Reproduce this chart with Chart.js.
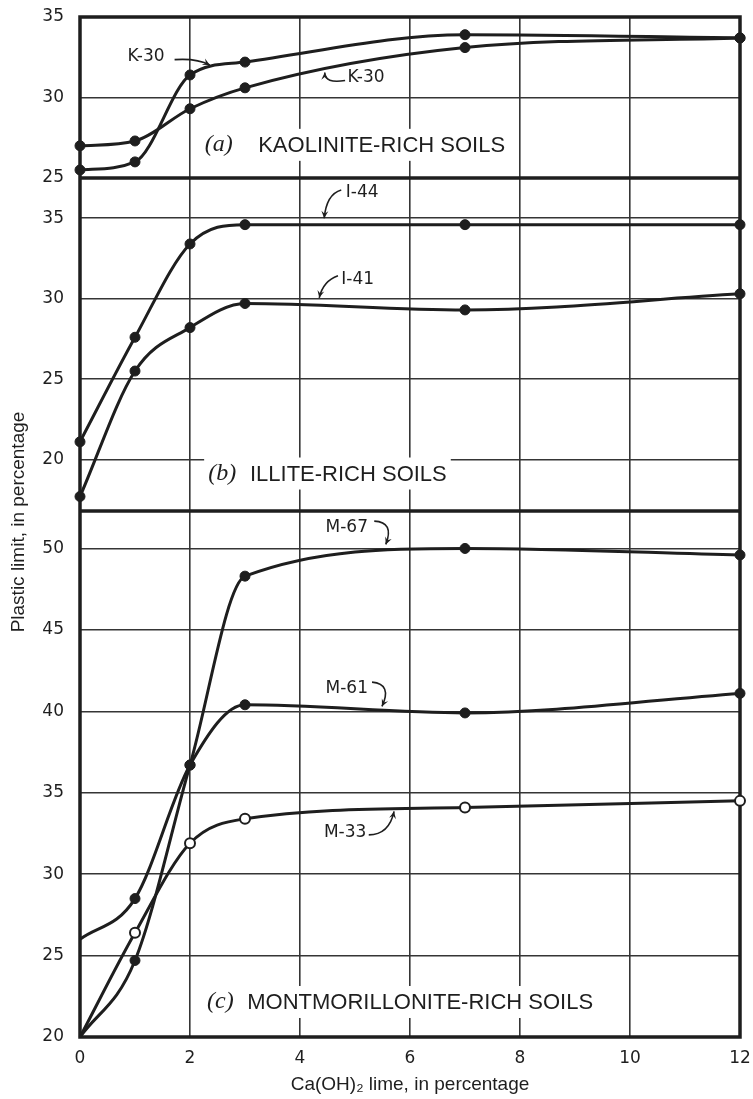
<!DOCTYPE html>
<html>
<head>
<meta charset="utf-8">
<script src="https://cdn.jsdelivr.net/npm/chart.js@4.4.0/dist/chart.umd.min.js"></script>
<style>
  html, body { margin: 0; padding: 0; background: #fff; }
  #wrap { width: 753px; height: 1099px; position: relative; }
</style>
</head>
<body>
<div id="wrap"><canvas id="limitChart"></canvas></div>
<script>
// lime content, % Ca(OH)2
const lime = [0, 1, 2, 3, 7, 12];

// (a) kaolinite-rich soils, two K-30 curves
const k30First = [27.0, 27.3, 29.3, 30.6, 33.1, 33.7];
const k30Second = [25.5, 26.0, 31.4, 32.2, 33.9, 33.7];
// (b) illite-rich soils
const i44 = [21.1, 27.6, 33.4, 34.6, 34.6, 34.6];
const i41 = [17.7, 25.5, 28.2, 29.7, 29.3, 30.3];
// (c) montmorillonite-rich soils
const m67 = [20.0, 24.7, 36.7, 48.3, 50.0, 49.6];
const m61 = [26.0, 28.5, 36.7, 40.4, 39.9, 41.1];
const m33 = [20.0, 26.4, 31.9, 33.4, 34.1, 34.5];

const xTicks = [0, 2, 4, 6, 8, 10, 12];
const ticksA = [25, 30, 35];
const ticksB = [20, 25, 30, 35];
const ticksC = [20, 25, 30, 35, 40, 45, 50];

const INK = '#1e1e1e';
const GRID = '#353535';

// text placed on the plot, in data units of each panel
const panelLabels = [
    { axis: 'yA', tag: '(a)', text: 'KAOLINITE-RICH SOILS', tagX: 2.27, textX: 3.24, y: 27.06 },
    { axis: 'yB', tag: '(b)', text: 'ILLITE-RICH SOILS', tagX: 2.33, textX: 3.09, y: 19.13 },
    { axis: 'yC', tag: '(c)', text: 'MONTMORILLONITE-RICH SOILS', tagX: 2.31, textX: 3.04, y: 22.15 }
];
const curveLabels = [
    { axis: 'yA', text: 'K-30', x: 1.2, y: 32.56, arrow: [[1.72, 32.35], [2.12, 32.45], [2.36, 32.02]] },
    { axis: 'yA', text: 'K-30', x: 5.2, y: 31.25, arrow: [[4.82, 31.06], [4.45, 30.85], [4.45, 31.55]] },
    { axis: 'yB', text: 'I-44', x: 5.13, y: 36.57, arrow: [[4.75, 36.76], [4.48, 36.5], [4.44, 35.0]] },
    { axis: 'yB', text: 'I-41', x: 5.05, y: 31.17, arrow: [[4.69, 31.42], [4.42, 31.1], [4.35, 30.05]] },
    { axis: 'yC', text: 'M-67', x: 4.85, y: 51.31, arrow: [[5.35, 51.68], [5.72, 51.62], [5.56, 50.25]] },
    { axis: 'yC', text: 'M-61', x: 4.85, y: 41.42, arrow: [[5.31, 41.79], [5.68, 41.67], [5.49, 40.3]] },
    { axis: 'yC', text: 'M-33', x: 4.82, y: 32.53, arrow: [[5.25, 32.41], [5.62, 32.41], [5.71, 33.85]] }
];

function curve(label, values, axis, extra) {
    return Object.assign({
        label: label,
        yAxisID: axis,
        data: lime.map((x, i) => ({ x: x, y: values[i] })),
        borderColor: INK,
        borderWidth: 3,
        pointRadius: 5,
        pointBackgroundColor: INK,
        pointBorderColor: INK,
        pointBorderWidth: 1,
        cubicInterpolationMode: 'monotone',
        clip: false
    }, extra || {});
}

function panelAxis(min, max, ticks, weight, order) {
    return {
        type: 'linear',
        position: 'left',
        stack: 'panels',
        stackWeight: weight,
        weight: order,
        min: min,
        max: max,
        afterBuildTicks: s => { s.ticks = ticks.map(v => ({ value: v })); },
        // fixed width, and no extra room for label overflow
        afterFit: s => { s.width = 80; s.paddingTop = 0; s.paddingBottom = 0; },
        grid: { color: GRID, lineWidth: 1.6, drawTicks: false },
        border: { display: false },
        ticks: { color: INK, padding: 16, font: { family: 'DejaVu Sans', size: 17 } }
    };
}

function arrow(ctx, pts) {
    const [p0, c, p2] = pts;
    ctx.beginPath();
    ctx.moveTo(p0[0], p0[1]);
    ctx.quadraticCurveTo(c[0], c[1], p2[0], p2[1]);
    ctx.stroke();
    const a = Math.atan2(p2[1] - c[1], p2[0] - c[0]);
    const len = 8;
    ctx.beginPath();
    ctx.moveTo(p2[0], p2[1]);
    ctx.lineTo(p2[0] - len * Math.cos(a - 0.45), p2[1] - len * Math.sin(a - 0.45));
    ctx.lineTo(p2[0] - len * 0.55 * Math.cos(a), p2[1] - len * 0.55 * Math.sin(a));
    ctx.lineTo(p2[0] - len * Math.cos(a + 0.45), p2[1] - len * Math.sin(a + 0.45));
    ctx.closePath();
    ctx.fill();
}

const decorations = {
    id: 'decorations',
    beforeDatasetsDraw(chart) {
        const ctx = chart.ctx;
        const { left, right, top, bottom } = chart.chartArea;
        const xs = chart.scales.x;
        ctx.save();
        // outer frame and panel dividers
        ctx.strokeStyle = INK;
        ctx.lineWidth = 3.5;
        ctx.strokeRect(left, top, right - left, bottom - top);
        ['yA', 'yB'].forEach(id => {
            const y = chart.scales[id].bottom;
            ctx.beginPath();
            ctx.moveTo(left, y);
            ctx.lineTo(right, y);
            ctx.stroke();
        });
        // panel titles on white
        ctx.textBaseline = 'middle';
        panelLabels.forEach(p => {
            const y = chart.scales[p.axis].getPixelForValue(p.y);
            const x0 = xs.getPixelForValue(p.tagX);
            const x1 = xs.getPixelForValue(p.textX);
            ctx.font = '22px "Liberation Sans", Arial, sans-serif';
            const w = ctx.measureText(p.text).width;
            ctx.fillStyle = '#fff';
            ctx.fillRect(x0 - 4, y - 16, x1 + w - x0 + 8, 32);
            ctx.fillStyle = INK;
            ctx.fillText(p.text, x1, y + 1);
            ctx.font = 'italic 24px "Liberation Serif", "Times New Roman", serif';
            ctx.fillText(p.tag, x0, y);
        });
        ctx.restore();
    },
    afterDatasetsDraw(chart) {
        const ctx = chart.ctx;
        const xs = chart.scales.x;
        ctx.save();
        ctx.fillStyle = INK;
        ctx.strokeStyle = INK;
        ctx.lineWidth = 1.6;
        ctx.font = '17px "DejaVu Sans", sans-serif';
        ctx.textAlign = 'center';
        ctx.textBaseline = 'middle';
        curveLabels.forEach(c => {
            const ys = chart.scales[c.axis];
            ctx.fillText(c.text, xs.getPixelForValue(c.x), ys.getPixelForValue(c.y));
            arrow(ctx, c.arrow.map(p => [xs.getPixelForValue(p[0]), ys.getPixelForValue(p[1])]));
        });
        // shared y-axis title
        const { top, bottom } = chart.chartArea;
        ctx.translate(19, (top + bottom) / 2 - 5);
        ctx.rotate(-Math.PI / 2);
        ctx.font = '19px "Liberation Sans", Arial, sans-serif';
        ctx.fillText('Plastic limit, in percentage', 0, 0);
        ctx.restore();
    }
};

new Chart(document.getElementById('limitChart'), {
    type: 'line',
    data: {
        datasets: [
            curve('K-30', k30First, 'yA'),
            curve('K-30', k30Second, 'yA'),
            curve('I-44', i44, 'yB'),
            curve('I-41', i41, 'yB'),
            curve('M-67', m67, 'yC', { pointRadius: [0, 5, 5, 5, 5, 5] }),
            curve('M-61', m61, 'yC', { pointRadius: [0, 5, 5, 5, 5, 5] }),
            curve('M-33', m33, 'yC', {
                pointRadius: [0, 5, 5, 5, 5, 5],
                pointBackgroundColor: '#fff',
                pointBorderWidth: 2
            })
        ]
    },
    options: {
        responsive: true,
        maintainAspectRatio: false,
        animation: false,
        layout: { padding: { top: 17, right: 13, bottom: 0, left: 0 } },
        plugins: { legend: { display: false }, tooltip: { enabled: false } },
        scales: {
            x: {
                type: 'linear',
                min: 0,
                max: 12,
                afterBuildTicks: s => { s.ticks = xTicks.map(v => ({ value: v })); },
                afterFit: s => { s.height = 62; s.paddingLeft = 0; s.paddingRight = 0; },
                grid: { color: GRID, lineWidth: 1.6, drawTicks: false },
                border: { display: false },
                ticks: { color: INK, padding: 11, font: { family: 'DejaVu Sans', size: 17 } },
                title: {
                    display: true,
                    text: 'Ca(OH)\u2082 lime, in percentage',
                    color: INK,
                    padding: { top: 2, bottom: 3 },
                    font: { family: 'Liberation Sans', size: 19 }
                }
            },
            yC: panelAxis(20, 52.3, ticksC, 526, 1),
            yB: panelAxis(16.8, 37.5, ticksB, 333, 2),
            yA: panelAxis(25, 35, ticksA, 161, 3)
        }
    },
    plugins: [decorations]
});
</script>
</body>
</html>
